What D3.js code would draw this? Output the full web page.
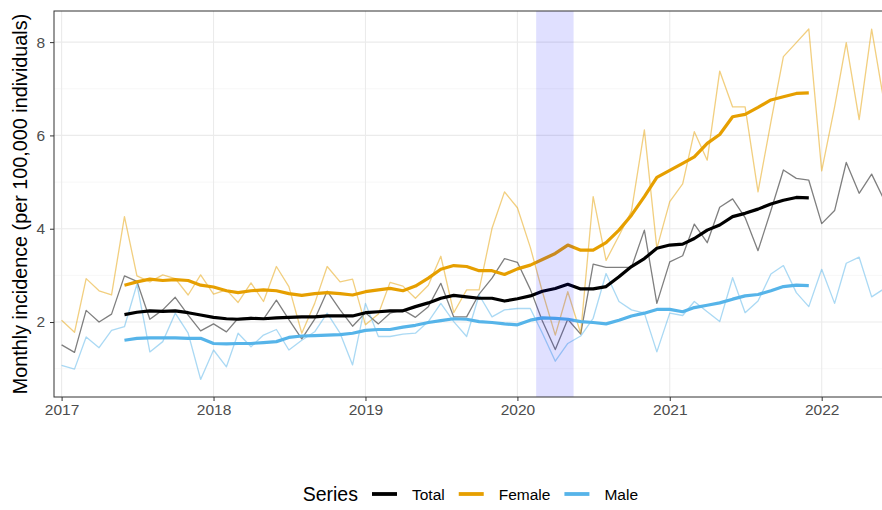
<!DOCTYPE html>
<html>
<head>
<meta charset="utf-8">
<script src="https://cdn.jsdelivr.net/npm/d3@7"></script>
<style>
  body { margin: 0; background: #fff; }
  svg { display: block; font-family: "Liberation Sans", Arial, sans-serif; }
</style>
</head>
<body>
<div id="chart"></div>
<script>
// Monthly incidence, Jan 2017 .. Jun 2022 (thin lines)
const monthlyStart = "2017-01-01";
const femaleMonthly = [2.04, 1.78, 2.93, 2.67, 2.58, 4.26, 2.99, 2.86, 3.01, 2.93, 2.58, 3.01,
  2.60, 2.69, 2.42, 2.84, 2.44, 3.19, 2.76, 1.76, 2.40, 3.19, 2.86, 2.92,
  1.94, 2.17, 2.85, 2.77, 2.51, 2.79, 3.41, 2.20, 2.69, 2.69, 4.01, 4.79,
  4.45, 3.60, 2.65, 1.72, 2.65, 1.76, 4.69, 3.32, 3.85, 4.38, 6.12, 3.58,
  4.58, 4.96, 6.08, 5.47, 7.38, 6.61, 6.61, 4.79, 6.29, 7.69, 7.99, 8.28,
  5.24, 6.61, 7.99, 6.34, 8.28, 6.65];
const totalMonthly = [1.51, 1.35, 2.25, 2.00, 2.17, 2.99, 2.87, 2.06, 2.26, 2.53, 2.15, 1.81,
  1.96, 1.79, 2.08, 2.10, 2.06, 2.47, 2.05, 1.64, 2.06, 2.66, 2.26, 1.91,
  2.20, 1.96, 2.19, 2.26, 2.10, 2.33, 2.83, 2.11, 2.11, 2.60, 2.94, 3.36,
  3.28, 2.70, 2.02, 1.41, 2.06, 1.74, 3.24, 3.17, 3.17, 3.17, 3.97, 2.40,
  3.29, 3.42, 4.10, 3.70, 4.46, 4.64, 4.24, 3.53, 4.39, 5.26, 5.08, 5.04,
  4.11, 4.39, 5.42, 4.76, 5.17, 4.60];
const maleMonthly = [1.07, 0.99, 1.68, 1.45, 1.82, 1.90, 2.81, 1.36, 1.58, 2.19, 1.76, 0.77,
  1.40, 1.04, 1.76, 1.47, 1.72, 1.84, 1.40, 1.61, 1.79, 2.19, 1.76, 1.08,
  2.40, 1.69, 1.69, 1.74, 1.76, 2.01, 2.40, 2.01, 1.69, 2.58, 2.11, 2.26,
  2.29, 2.29, 1.76, 1.16, 1.54, 1.70, 2.08, 3.04, 2.44, 2.26, 2.19, 1.36,
  2.19, 2.14, 2.44, 2.22, 2.01, 2.95, 2.20, 2.45, 3.03, 3.21, 2.63, 2.33,
  3.13, 2.40, 3.26, 3.39, 2.54, 2.72];

// 12-month rolling averages, Jun 2017 .. Dec 2021 (thick lines)
const rollingStart = "2017-06-01";
const femaleRolling = [2.79, 2.86, 2.92, 2.89, 2.91, 2.89, 2.79,
  2.75, 2.67, 2.63, 2.67, 2.69, 2.67, 2.61, 2.57, 2.61, 2.63, 2.61, 2.58,
  2.65, 2.69, 2.72, 2.67, 2.77, 2.94, 3.13, 3.21, 3.19, 3.10, 3.10, 3.02,
  3.14, 3.22, 3.34, 3.47, 3.65, 3.54, 3.54, 3.70, 3.97, 4.29, 4.69, 5.10,
  5.25, 5.40, 5.54, 5.83, 6.02, 6.40, 6.45, 6.60, 6.76, 6.83, 6.90, 6.91];
const totalRolling = [2.16, 2.21, 2.24, 2.23, 2.24, 2.20, 2.15,
  2.10, 2.07, 2.06, 2.08, 2.07, 2.09, 2.10, 2.11, 2.11, 2.13, 2.13, 2.13,
  2.20, 2.22, 2.24, 2.24, 2.33, 2.41, 2.51, 2.57, 2.54, 2.51, 2.51, 2.45,
  2.50, 2.56, 2.66, 2.72, 2.81, 2.71, 2.71, 2.76, 2.97, 3.19, 3.36, 3.58,
  3.65, 3.67, 3.79, 3.97, 4.08, 4.26, 4.33, 4.42, 4.53, 4.61, 4.67, 4.66];
const maleRolling = [1.61, 1.65, 1.66, 1.66, 1.66, 1.65, 1.65,
  1.54, 1.53, 1.54, 1.54, 1.56, 1.58, 1.67, 1.70, 1.71, 1.72, 1.73, 1.76,
  1.82, 1.84, 1.84, 1.89, 1.93, 1.99, 2.03, 2.07, 2.06, 2.01, 1.99, 1.96,
  1.94, 2.04, 2.09, 2.08, 2.06, 2.01, 1.99, 1.96, 2.04, 2.13, 2.19, 2.27,
  2.27, 2.22, 2.31, 2.36, 2.41, 2.49, 2.56, 2.59, 2.67, 2.76, 2.79, 2.78];

const seriesNames = ["Total", "Female", "Male"];
const seriesColors = ["#000000", "#E69F00", "#56B4E9"];
const yearTicks = ["2017", "2018", "2019", "2020", "2021", "2022"];
const yTicks = [2, 4, 6, 8];
const yMinor = [1, 3, 5, 7];
const shadeRange = ["2020-02-15", "2020-05-15"];

// Set up chart dimensions
const width = 882, height = 510;
const panel = { left: 54, top: 11, right: 892, bottom: 397 };

const svg = d3.select("#chart").append("svg")
  .attr("width", width)
  .attr("height", height);

const parse = d3.utcParse("%Y-%m-%d");
const xScale = d3.scaleUtc()
  .domain([parse("2017-01-01"), parse("2022-01-01")])
  .range([61.6, 821.7]);
const yScale = d3.scaleLinear()
  .domain([0.393, 8.667])
  .range([panel.bottom, panel.top]);

svg.append("defs").append("clipPath").attr("id", "clip")
  .append("rect")
  .attr("x", panel.left).attr("y", panel.top)
  .attr("width", panel.right - panel.left)
  .attr("height", panel.bottom - panel.top);

// Gridlines
const grid = svg.append("g");
grid.selectAll(".minor").data(yMinor).enter().append("line")
  .attr("x1", panel.left).attr("x2", panel.right)
  .attr("y1", (d) => yScale(d)).attr("y2", (d) => yScale(d))
  .attr("stroke", "#F2F2F2").attr("stroke-width", 0.6);
grid.selectAll(".major").data(yTicks).enter().append("line")
  .attr("x1", panel.left).attr("x2", panel.right)
  .attr("y1", (d) => yScale(d)).attr("y2", (d) => yScale(d))
  .attr("stroke", "#EBEBEB").attr("stroke-width", 1.1);
grid.selectAll(".vmajor").data(yearTicks).enter().append("line")
  .attr("x1", (d) => xScale(parse(d + "-01-01"))).attr("x2", (d) => xScale(parse(d + "-01-01")))
  .attr("y1", panel.top).attr("y2", panel.bottom)
  .attr("stroke", "#EBEBEB").attr("stroke-width", 1.1);

// Build series
function toPoints(start, values) {
  const s = parse(start);
  return values.map((v, i) => ({ date: d3.utcMonth.offset(s, i), value: v }));
}
const monthly = [totalMonthly, femaleMonthly, maleMonthly].map((v) => toPoints(monthlyStart, v));
const rolling = [totalRolling, femaleRolling, maleRolling].map((v) => toPoints(rollingStart, v));

const line = d3.line()
  .x((d) => xScale(d.date))
  .y((d) => yScale(d.value));

const plot = svg.append("g").attr("clip-path", "url(#clip)");

// Draw thin monthly lines
plot.selectAll(".thin").data(monthly).enter().append("path")
  .attr("d", line)
  .attr("fill", "none")
  .attr("stroke", (d, i) => seriesColors[i])
  .attr("stroke-opacity", 0.5)
  .attr("stroke-width", 1.3)
  .attr("stroke-linejoin", "round");

// Draw thick rolling lines
plot.selectAll(".thick").data(rolling).enter().append("path")
  .attr("d", line)
  .attr("fill", "none")
  .attr("stroke", (d, i) => seriesColors[i])
  .attr("stroke-width", 3.2)
  .attr("stroke-linejoin", "round");

// Shaded period (drawn on top, translucent)
plot.append("rect")
  .attr("x", xScale(parse(shadeRange[0])))
  .attr("width", xScale(parse(shadeRange[1])) - xScale(parse(shadeRange[0])))
  .attr("y", panel.top)
  .attr("height", panel.bottom - panel.top)
  .attr("fill", "#0000FF")
  .attr("fill-opacity", 0.12);

// Panel border
svg.append("rect")
  .attr("x", panel.left).attr("y", panel.top)
  .attr("width", panel.right - panel.left)
  .attr("height", panel.bottom - panel.top)
  .attr("fill", "none")
  .attr("stroke", "#333333")
  .attr("stroke-width", 1);

// Axes
const xAxis = d3.axisBottom(xScale)
  .tickValues(yearTicks.map((d) => parse(d + "-01-01")))
  .tickFormat(d3.utcFormat("%Y"))
  .tickSize(4)
  .tickPadding(3);
const gx = svg.append("g")
  .attr("transform", `translate(0,${panel.bottom})`)
  .call(xAxis);

const yAxis = d3.axisLeft(yScale)
  .tickValues(yTicks)
  .tickSize(4)
  .tickPadding(5);
const gy = svg.append("g")
  .attr("transform", `translate(${panel.left},0)`)
  .call(yAxis);

[gx, gy].forEach((g) => {
  g.select(".domain").remove();
  g.selectAll(".tick line").attr("stroke", "#333333").attr("stroke-width", 1);
  g.selectAll(".tick text")
    .attr("fill", "#4D4D4D")
    .style("font-size", "15.5px")
    .style("font-family", "\"Liberation Sans\", Arial, sans-serif");
});

// Y axis title
svg.append("text")
  .attr("transform", `translate(27,${(panel.top + panel.bottom) / 2}) rotate(-90)`)
  .attr("text-anchor", "middle")
  .style("font-size", "19.8px")
  .attr("fill", "#000")
  .text("Monthly incidence (per 100,000 individuals)");

// Legend
const legend = svg.append("g");
const legendY = 494;
const title = legend.append("text")
  .attr("x", 302.7).attr("y", 500.5)
  .style("font-size", "19.5px")
  .attr("fill", "#000")
  .text("Series");
let cursor = 302.7 + title.node().getComputedTextLength() + 14;
seriesNames.forEach((name, i) => {
  legend.append("line")
    .attr("x1", cursor).attr("x2", cursor + 25)
    .attr("y1", legendY).attr("y2", legendY)
    .attr("stroke", seriesColors[i])
    .attr("stroke-width", 3.8);
  const t = legend.append("text")
    .attr("x", cursor + 40).attr("y", 499.5)
    .style("font-size", "15.5px")
    .attr("fill", "#000")
    .text(name);
  cursor = cursor + 40 + t.node().getComputedTextLength() + 14;
});
</script>
</body>
</html>
